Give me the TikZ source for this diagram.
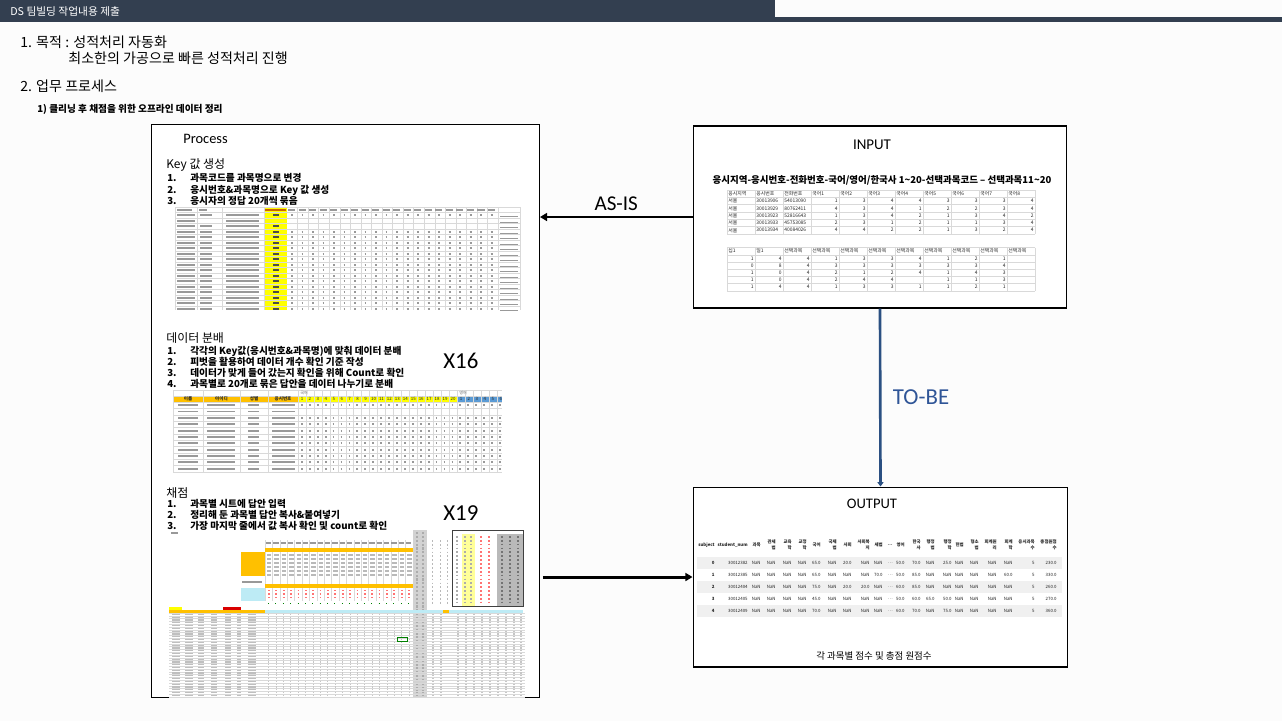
\documentclass[tikz,border=0pt]{standalone}
\usepackage{fontspec}
\setmainfont{Noto Sans CJK KR}
\newfontfamily\calibri{Carlito}
\usetikzlibrary{arrows.meta}
\definecolor{titlebar}{HTML}{333F50}
\definecolor{tobecolor}{HTML}{2B5082}
\definecolor{tobetext}{HTML}{2F5597}
\definecolor{sheetyellow}{HTML}{FFFF00}
\definecolor{sheetorange}{HTML}{FFC000}
\definecolor{sheetblue}{HTML}{5B9BD5}
\definecolor{sheetcyan}{HTML}{BDEBF5}
\definecolor{gridcolor}{HTML}{D9D9D9}
\definecolor{inkcolor}{HTML}{999999}
\newcommand{\outcols}{{715,748,761,776,792,807,821,837,852,870,883,893,905,921,935,952,964,979,997,1013,1035,1057}}

\begin{document}
\begin{tikzpicture}[x=0.02cm, y=-0.02cm,
    panel/.style={draw, line width=0.6pt, fill=white, inner sep=0},
    txt/.style={anchor=base west, inner sep=0},
    item/.style={txt, font=\fontsize{5.5}{6.5}\selectfont\bfseries},
    xcell/.style={inner sep=0, font=\fontsize{2.8}{3.2}\selectfont, text=black!85},
    ocell/.style={inner sep=0, font=\fontsize{2.5}{3.4}\selectfont, text=black!85},
    sheetline/.style={gridcolor, line width=0.2pt},
    blot/.style={inkcolor, line width=1.05pt}]

    % page and title bar
    \useasboundingbox (0,0) rectangle (1282,721);
    \fill[black!1] (0,0) rectangle (1282,721);
    \fill[titlebar] (0,0) rectangle (775,22);
    \fill[titlebar] (726,17) rectangle (1282,22);
    \node[txt, text=white, font=\fontsize{6.1}{7}\selectfont] (title) at (10,15) {DS 팀빌딩 작업내용 제출};

    % goal
    \node[txt, font=\fontsize{8}{9.5}\selectfont] (goal) at (20,47) {1. 목적 : 성적처리 자동화};
    \node[txt, font=\fontsize{8}{9.5}\selectfont] (goaltext) at (68,63) {최소한의 가공으로 빠른 성적처리 진행};
    \node[txt, font=\fontsize{8}{9.5}\selectfont] (work) at (20,91) {2. 업무 프로세스};
    \node[item] (worksub) at (37,112) {1) 클리닝 후 채점을 위한 오프라인 데이터 정리};

    % the three panels
    \node[panel, minimum width=7.76cm, minimum height=11.48cm] (process) at (345.5,411) {};
    \node[panel, minimum width=7.48cm, minimum height=3.64cm] (input) at (880,217) {};
    \node[panel, minimum width=7.5cm, minimum height=3.6cm] (output) at (880.5,577) {};

    % AS-IS and TO-BE
    \draw[line width=1.5pt, -{Triangle[length=4pt, width=4.5pt]}] (input.west) -- (process.east |- input.west)
        node[midway, above=2.8pt, inner sep=0, font=\calibri\fontsize{12}{14}\selectfont] (asis) {AS-IS};
    \draw[tobecolor, line width=1.5pt, -{Triangle[length=2.5pt, width=3.5pt]}] (input.south) -- (output.north)
        node[midway, right=6.5pt, inner sep=0, text=tobetext, font=\calibri\fontsize{13}{15}\selectfont] (tobe) {TO-BE};
    \draw[line width=1.7pt, -{Triangle[length=4pt, width=4.5pt]}] (process.east |- output.west) ++(3,0) -- (output.west);

    % Process panel
    \node[txt, font=\calibri\fontsize{8.2}{10}\selectfont] (ptitle) at (183,143) {Process};

    \node[txt, font=\fontsize{6.8}{8}\selectfont] (keyhead) at (166,168) {Key 값 생성};
    \foreach \n/\y/\lbl in {1/181/과목코드를 과목명으로 변경, 2/193/응시번호\&과목명으로 Key 값 생성, 3/204/응시자의 정답 20개씩 묶음} {
        \node[item] (kn\n) at (167,\y) {\n.};
        \node[item] (kt\n) at (190,\y) {\lbl};
    }

    \node[txt, font=\fontsize{6.8}{8}\selectfont] (splithead) at (166,342) {데이터 분배};
    \foreach \n/\y/\lbl in {1/354/각각의 Key값(응시번호\&과목명)에 맞춰 데이터 분배, 2/365/피벗을 활용하여 데이터 개수 확인 기준 작성,
                            3/376/데이터가 맞게 들어 갔는지 확인을 위해 Count로 확인, 4/387/과목별로 20개로 묶은 답안을 데이터 나누기로 분배} {
        \node[item] (sn\n) at (167,\y) {\n.};
        \node[item] (st\n) at (190,\y) {\lbl};
    }
    \node[txt, font=\calibri\fontsize{13}{15}\selectfont] (x16) at (443,368) {X16};

    \node[txt, font=\fontsize{6.8}{8}\selectfont] (gradehead) at (166,497) {채점};
    \foreach \n/\y/\lbl in {1/507/과목별 시트에 답안 입력, 2/518/정리해 둔 과목별 답안 복사\&붙여넣기, 3/529/가장 마지막 줄에서 값 복사 확인 및 count로 확인} {
        \node[item] (gn\n) at (167,\y) {\n.};
        \node[item] (gt\n) at (190,\y) {\lbl};
    }
    \node[txt, font=\calibri\fontsize{13}{15}\selectfont] (x19) at (443,520) {X19};

    % key sheet
    \fill[white] (175,207) rectangle (520,310);
    \fill[sheetyellow] (264,207) rectangle (287,310);
    \foreach \k in {0,...,18} \draw[sheetline] (175,{207+5.5*\k}) -- (520,{207+5.5*\k});
    \foreach \x in {175,197,222,264,498,520} \draw[sheetline] (\x,207) -- (\x,310);
    \foreach \k in {1,...,19} \draw[sheetline] ({287+10.55*\k},207) -- ({287+10.55*\k},310);
    \draw[blot, line width=0.8pt] (177,209.8) -- (192,209.8) (199,209.8) -- (207,209.8);
    \draw[blot, line width=0.8pt, orange!80!black] (265,209.8) -- (286,209.8);
    \draw[blot, line width=0.8pt, dash pattern=on 4.2pt off 1.78pt] (288,209.8) -- (497,209.8);
    \foreach \r in {1,...,18} {
        \pgfmathsetmacro\y{209.75+5.5*\r}
        \draw[blot] (177,\y) -- (195,\y);
        \ifnum\r=2\relax\else
            \draw[blot] (200,\y) -- (212,\y);
            \draw[blot, black!70] (273,\y) -- (279,\y);
        \fi
        \draw[blot] (226,\y) -- (259,\y);
        \ifnum\r=2\relax\else\ifnum\r=3\relax\else
            \draw[blot, dash pattern=on 1.1pt off 4.88pt] (291,\y) -- (497,\y);
        \fi\fi
        \draw[black!40, line width=0.3pt] (500,{\y+1.2}) -- (518,{\y+1.2});
    }

    % answer sheet split by key
    \begin{scope}
        \clip (173,390) rectangle (502,472);
        \fill[white] (173,390) rectangle (502,472);
        \fill[sheetorange] (173,396) rectangle (298,402);
        \fill[sheetyellow] (298,396) rectangle (457,402);
        \fill[sheetblue] (457,396) rectangle (502,402);
        \foreach \y in {390,396} \draw[sheetline] (173,\y) -- (502,\y);
        \foreach \k in {0,...,11} \draw[sheetline] (173,{402+6.36*\k}) -- (502,{402+6.36*\k});
        \foreach \x in {173,203,240,268,298} \draw[sheetline] (\x,390) -- (\x,472);
        \foreach \k in {1,...,25} \draw[sheetline] ({298+7.95*\k},390) -- ({298+7.95*\k},472);
        \foreach \lbl/\x [count=\n] in {이름/188, 아이디/221.5, 성별/254, 응시번호/283}
            \node[xcell, font=\fontsize{2.6}{3}\selectfont\bfseries] (sh\n) at (\x,399) {\lbl};
        \foreach \k in {1,...,20}
            \node[xcell, font=\fontsize{2.5}{3}\selectfont] (sk\k) at ({298+7.95*\k-3.97},399) {\k};
        \foreach \k in {1,...,6}
            \node[xcell, font=\fontsize{2.5}{3}\selectfont] (se\k) at ({457+7.95*\k-3.97},399) {\k};
        \node[xcell, font=\fontsize{2.3}{3}\selectfont, text=black!60, anchor=west] (skor) at (300,393) {국어};
        \node[xcell, font=\fontsize{2.3}{3}\selectfont, text=black!60, anchor=west] (seng) at (459,393) {영어};
        \foreach \r in {1,...,11} {
            \pgfmathsetmacro\y{398.8+6.36*\r}
            \draw[blot] (178,\y) -- (198,\y) (207,\y) -- (235,\y) (248,\y) -- (259,\y) (272,\y) -- (295,\y);
            \ifnum\r=2\relax\else
                \draw[blot, dash pattern=on 1pt off 3.51pt] (301,\y) -- (502,\y);
            \fi
        }
    \end{scope}

    % scoring sheet
    \fill[white] (169,530) rectangle (525,697);
    \draw[blot, line width=0.7pt] (171,533) -- (178,533);
    \foreach \k in {0,...,20} \draw[sheetline] ({265+7.4*\k},540) -- ({265+7.4*\k},601);
    \draw[blot, line width=0.6pt, dash pattern=on 3pt off 1.2pt] (266,543) -- (413,543);
    \fill[sheetorange] (265,548) rectangle (413,552);
    \fill[sheetorange] (241,552) rectangle (265,576);
    \foreach \y in {555,559,...,575} \draw[blot, line width=0.8pt, gray!55, dash pattern=on 2.5pt off 1.7pt] (267,\y) -- (413,\y);
    \draw[blot, line width=0.7pt] (242,582) -- (262,582);
    \fill[sheetorange] (265,584) rectangle (413,588);
    \fill[sheetcyan] (241,588) rectangle (265,601);
    \foreach \y in {590.5,594,597.5} \draw[red!55, line width=0.8pt, dash pattern=on 1pt off 3.2pt] (268,\y) -- (413,\y);
    \draw[green!50!black, line width=0.6pt, dash pattern=on 0.5pt off 3.7pt] (268,603.5) -- (413,603.5);
    \fill[gray!35] (413,530) rectangle (427,697);
    \foreach \x in {417,423} \draw[gray!65, line width=0.7pt, dash pattern=on 1.2pt off 1pt] (\x,532) -- (\x,697);
    \foreach \x in {432,440,447} \draw[gray!55, line width=0.5pt, dash pattern=on 1pt off 1.2pt] (\x,540) -- (\x,605);
    \fill[sheetyellow!40] (462,534) rectangle (475,606);
    \fill[gray!55] (497,534) rectangle (523,606);
    \draw[black!75, line width=0.5pt] (452,530) rectangle (523,606);
    \foreach \x in {457,465,471} \draw[gray!65, line width=0.6pt, dash pattern=on 1pt off 1.2pt] (\x,536) -- (\x,605);
    \foreach \x in {481,489} \draw[red!55, line width=0.6pt, dash pattern=on 1pt off 1.2pt] (\x,536) -- (\x,605);
    \foreach \x in {502,510,518} \draw[black!55, line width=0.6pt, dash pattern=on 1pt off 1.2pt] (\x,536) -- (\x,605);
    \fill[sheetyellow] (169,607) rectangle (182,610);
    \fill[red!85!black] (223,607) rectangle (241,610);
    \fill[sheetorange] (169,610) rectangle (265,613);
    \fill[sheetcyan] (265,610) rectangle (523,613);
    \fill[sheetorange] (443,610) rectangle (449,613);
    \foreach \k in {0,...,30} \draw[sheetline] (169,{613+2.8*\k}) -- (525,{613+2.8*\k});
    \foreach \x/\w in {176/4, 189/4, 201/3.5, 214/3.5, 228/3, 239/2, 252/5}
        \draw[gray!50, line width=\w pt, dash pattern=on 0.7pt off 0.89pt] (\x,613.8) -- (\x,697);
    \foreach \k in {1,...,20}
        \draw[gray!45, line width=0.6pt, dash pattern=on 0.7pt off 0.89pt] ({265+7.4*\k-3.7},613.8) -- ({265+7.4*\k-3.7},697);
    \foreach \x in {433,441,458,466,474,482,490,498,506,514,521}
        \draw[gray!45, line width=0.6pt, dash pattern=on 0.7pt off 0.89pt] (\x,613.8) -- (\x,697);
    \draw[green!50!black, line width=0.3pt] (397,637) rectangle (407,641);

    % INPUT panel
    \node[anchor=base, inner sep=0, font=\calibri\fontsize{8.5}{10}\selectfont] (intitle) at (872,149) {INPUT};
    \node[anchor=base, inner sep=0, font=\fontsize{5.4}{6}\selectfont\bfseries] (format) at (882,183)
        {응시지역-응시번호-전화번호-국어/영어/한국사 1\textasciitilde20-선택과목코드 – 선택과목11\textasciitilde20};
    \foreach \k in {0,...,6} \draw[sheetline] (727,{190+7.3*\k}) -- (1035,{190+7.3*\k});
    \foreach \k in {0,...,11} \draw[sheetline] ({727+28*\k},190) -- ({727+28*\k},233.8);
    \foreach \h [count=\n] in {응시지역,응시번호,전화번호,국어1,국어2,국어3,국어4,국어5,국어6,국어7,국어8}
        \node[xcell, anchor=west] (ah\n) at ({700+28*\n},193.6) {\h};
    \foreach \y/\row [count=\r] in {201/{서울,30013906,54013090,1,3,4,4,3,3,3,4},
                                    208.3/{서울,30013929,80762411,4,3,4,1,2,2,3,4},
                                    215.6/{서울,30013923,52816643,1,3,4,2,1,3,4,2},
                                    222.9/{서울,30013933,45753085,2,3,1,2,1,1,3,4},
                                    230.2/{서울,30013934,40084026,4,4,2,2,1,3,2,4}}
        \foreach \v [count=\n] in \row {
            \ifnum\n<4
                \node[xcell, anchor=west] (a\r-\n) at ({700+28*\n},\y) {\v};
            \else
                \node[xcell, anchor=east] (a\r-\n) at ({726+28*\n},\y) {\v};
            \fi
        };

    \foreach \k in {0,...,6} \draw[sheetline] (727,{247.5+7.2*\k}) -- (1035,{247.5+7.2*\k});
    \foreach \k in {0,...,11} \draw[sheetline] ({727+28*\k},247.5) -- ({727+28*\k},290.7);
    \foreach \h [count=\n] in {십1,일1,선택과목,선택과목,선택과목,선택과목,선택과목,선택과목,선택과목,선택과목,선택과목}
        \node[xcell, anchor=west] (bh\n) at ({700+28*\n},251.1) {\h};
    \foreach \y/\row [count=\r] in {258.3/{1,4,4,1,3,3,4,1,2,1},
                                    265.5/{0,8,4,3,3,3,3,3,3,4},
                                    272.7/{1,0,4,2,1,2,4,1,4,3},
                                    279.9/{1,0,4,2,4,4,{},1,1,3},
                                    287.1/{1,4,4,1,3,3,1,1,2,1}}
        \foreach \v [count=\n] in \row
            \node[xcell, anchor=east] (b\r-\n) at ({726+28*\n},\y) {\v};

    % OUTPUT panel
    \node[anchor=base, inner sep=0, font=\calibri\fontsize{8.3}{10}\selectfont] (outtitle) at (872,508) {OUTPUT};
    \foreach \y in {563,587,611} \fill[black!6] (697,{\y-6}) rectangle (1062,{\y+6});
    \foreach \h [count=\n] in {subject,student\_num,과목,{관세\\법},{교육\\학},{교정\\학},국어,{국제\\법},사회,{사회복\\지},세법,\ldots,
                               영어,{한국\\사},{행정\\법},{행정\\학},헌법,{형소\\법},{회계원\\리},{회계\\학},{응시과목\\수},{총점원점\\수}} {
        \pgfmathsetmacro\xr{\outcols[\n-1]}
        \node[ocell, anchor=east, align=right, font=\fontsize{2.5}{3.4}\selectfont\bfseries] (oh\n) at (\xr,545) {\h};
    }
    \foreach \y/\row [count=\r] in {563/{0,30012382,NaN,NaN,NaN,NaN,65.0,NaN,20.0,NaN,NaN,\ldots,50.0,70.0,NaN,25.0,NaN,NaN,NaN,NaN,5,230.0},
                                    575/{1,30012385,NaN,NaN,NaN,NaN,65.0,NaN,NaN,NaN,70.0,\ldots,50.0,85.0,NaN,NaN,NaN,NaN,NaN,60.0,5,330.0},
                                    587/{2,30012404,NaN,NaN,NaN,NaN,75.0,NaN,20.0,20.0,NaN,\ldots,60.0,85.0,NaN,NaN,NaN,NaN,NaN,NaN,5,260.0},
                                    599/{3,30012405,NaN,NaN,NaN,NaN,45.0,NaN,NaN,NaN,NaN,\ldots,50.0,60.0,65.0,50.0,NaN,NaN,NaN,NaN,5,270.0},
                                    611/{4,30012409,NaN,NaN,NaN,NaN,70.0,NaN,NaN,NaN,NaN,\ldots,60.0,70.0,NaN,75.0,NaN,NaN,NaN,NaN,5,360.0}}
        \foreach \v [count=\n] in \row {
            \pgfmathsetmacro\xr{\outcols[\n-1]}
            \node[ocell, anchor=east] (o\r-\n) at (\xr,\y) {\ifnum\n=1 \bfseries\fi\v};
        };
    \node[anchor=base, inner sep=0, font=\fontsize{5.4}{6}\selectfont] (caption) at (874,659) {각 과목별 점수 및 총점 원점수};
\end{tikzpicture}
\end{document}
